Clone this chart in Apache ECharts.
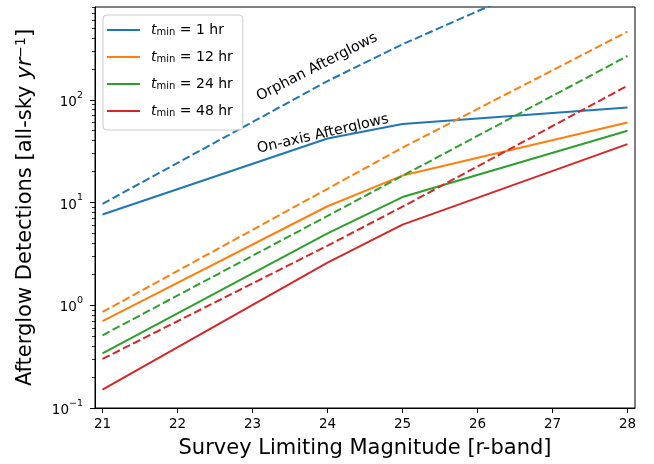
<!DOCTYPE html>
<html>
<head>
<meta charset="utf-8">
<script src="https://cdn.jsdelivr.net/npm/echarts@6/dist/echarts.min.js"></script>
<style>
  html, body { margin: 0; padding: 0; background: #fff; }
  #container { width: 654px; height: 464px; }
</style>
</head>
<body>
<div id="container"></div>
<script>
/* afterglow detections vs survey limiting magnitude */
const mags = [21, 24, 25, 28];
const tMins = ['1 hr', '12 hr', '24 hr', '48 hr'];

// on-axis afterglows (solid)
const onAxis1hr  = [7.65, 42, 58, 84];
const onAxis12hr = [0.70, 9.2, 18.3, 60];
const onAxis24hr = [0.34, 5.0, 11.3, 50];
const onAxis48hr = [0.151, 2.6, 6.1, 37];

// orphan afterglows (dashed)
const orphan1hr  = [9.7, 152, 347, 3200];
const orphan12hr = [0.86, 13.6, 34.2, 461];
const orphan24hr = [0.51, 7.4, 18.2, 267];
const orphan48hr = [0.30, 3.8, 9.1, 137];

const xTicks = [21, 22, 23, 24, 25, 26, 27, 28];
const yTicks = [0.1, 1, 10, 100];
const yMinorTicks = [0.2, 0.3, 0.4, 0.5, 0.6, 0.7, 0.8, 0.9,
                     2, 3, 4, 5, 6, 7, 8, 9,
                     20, 30, 40, 50, 60, 70, 80, 90,
                     200, 300, 400, 500, 600, 700, 800];

const colors = ['#1f77b4', '#ff7f0e', '#2ca02c', '#d62728'];
const FONT = '"DejaVu Sans", Verdana, sans-serif';

function pairs(vals) {
    return mags.map(function (m, i) { return [m, vals[i]]; });
}

const solidSets = [onAxis1hr, onAxis12hr, onAxis24hr, onAxis48hr];
const dashSets = [orphan1hr, orphan12hr, orphan24hr, orphan48hr];

const series = [];
tMins.forEach(function (name, i) {
    series.push({
        name: name,
        type: 'line',
        symbol: 'none',
        data: pairs(solidSets[i]),
        lineStyle: { color: colors[i], width: 2 },
        itemStyle: { color: colors[i] },
        clip: true
    });
});
tMins.forEach(function (name, i) {
    series.push({
        name: 'orphan ' + name,
        type: 'line',
        symbol: 'none',
        data: pairs(dashSets[i]),
        lineStyle: { color: colors[i], width: 2, type: [8, 3.4] },
        itemStyle: { color: colors[i] },
        clip: true
    });
});

function powLabel(v) {
    const e = Math.round(Math.log10(v));
    return '{b|10}{s|' + String(e).replace('-', '\u2212') + '}';
}

const dom = document.getElementById('container');
const myChart = echarts.init(dom, null, { renderer: 'canvas' });

const option = {
    animation: false,
    backgroundColor: '#fff',
    color: colors,
    textStyle: { fontFamily: FONT },
    grid: {
        left: 95, top: 7, width: 540, height: 403,
        show: true, borderColor: '#000', borderWidth: 1, backgroundColor: 'transparent'
    },
    legend: {
        show: true,
        data: tMins,
        orient: 'vertical',
        left: 103, top: 15,
        icon: 'rect',
        itemWidth: 33, itemHeight: 2, itemGap: 13,
        padding: [8, 10, 12, 4],
        backgroundColor: 'rgba(255,255,255,0.8)',
        borderColor: '#cccccc', borderWidth: 1, borderRadius: 4,
        formatter: function (name) {
            return '{t|t}{sub|min}{n| = ' + name + '}';
        },
        textStyle: {
            fontFamily: FONT,
            fontSize: 14,
            color: '#000',
            padding: [0, 0, 0, 6],
            rich: {
                t: { fontFamily: FONT, fontSize: 14, fontStyle: 'italic', color: '#000', lineHeight: 14 },
                sub: { fontFamily: FONT, fontSize: 10, color: '#000', verticalAlign: 'bottom', lineHeight: 10 },
                n: { fontFamily: FONT, fontSize: 14, color: '#000', lineHeight: 14 }
            }
        }
    },
    xAxis: {
        type: 'value',
        min: 20.9, max: 28.1,
        name: 'Survey Limiting Magnitude [r-band]',
        nameLocation: 'middle',
        nameGap: 30,
        nameTextStyle: { fontFamily: FONT, fontSize: 21, color: '#000' },
        axisLine: { show: true, lineStyle: { color: '#000', width: 1 } },
        axisTick: { show: true, length: 5, customValues: xTicks, lineStyle: { color: '#000' } },
        axisLabel: { customValues: xTicks, margin: 9, fontFamily: FONT, fontSize: 13.5, color: '#000' },
        splitLine: { show: false }
    },
    yAxis: [{
        type: 'log',
        logBase: 10,
        min: 0.1, max: 800,
        name: '{n|Afterglow Detections [all-sky }{i|yr}{s|\u22121}{n|]}',
        nameLocation: 'middle',
        nameGap: 57,
        nameRotate: 90,
        nameTextStyle: {
            color: '#000',
            rich: {
                n: { fontFamily: FONT, fontSize: 21, color: '#000', lineHeight: 24 },
                i: { fontFamily: FONT, fontSize: 21, fontStyle: 'italic', color: '#000', lineHeight: 24 },
                s: { fontFamily: FONT, fontSize: 14, color: '#000', verticalAlign: 'top', lineHeight: 14 }
            }
        },
        axisLine: { show: true, lineStyle: { color: '#000', width: 1 } },
        axisTick: { show: true, length: 5, customValues: yTicks, lineStyle: { color: '#000' } },
        axisLabel: {
            customValues: yTicks,
            margin: 12,
            formatter: powLabel,
            rich: {
                b: { fontFamily: FONT, fontSize: 13.5, color: '#000', padding: [5, 0, 0, 0], verticalAlign: 'bottom' },
                s: { fontFamily: FONT, fontSize: 9.5, color: '#000', verticalAlign: 'top' }
            }
        },
        splitLine: { show: false }
    }, {
        type: 'log',
        logBase: 10,
        min: 0.1, max: 800,
        position: 'left',
        offset: 0,
        axisLine: { show: false },
        axisTick: { show: true, length: 3, customValues: yMinorTicks, lineStyle: { color: '#000', width: 0.8 } },
        axisLabel: { show: false },
        splitLine: { show: false }
    }],
    graphic: [{
        type: 'text',
        x: 317, y: 67,
        rotation: 27 * Math.PI / 180,
        style: {
            text: 'Orphan Afterglows',
            font: '14.4px ' + FONT,
            fill: '#000',
            align: 'center',
            verticalAlign: 'middle'
        }
    }, {
        type: 'text',
        x: 323, y: 134,
        rotation: 13 * Math.PI / 180,
        style: {
            text: 'On-axis Afterglows',
            font: '14.4px ' + FONT,
            fill: '#000',
            align: 'center',
            verticalAlign: 'middle'
        }
    }],
    series: series
};

if (option && typeof option === 'object') {
    myChart.setOption(option, true);
}
</script>
</body>
</html>
